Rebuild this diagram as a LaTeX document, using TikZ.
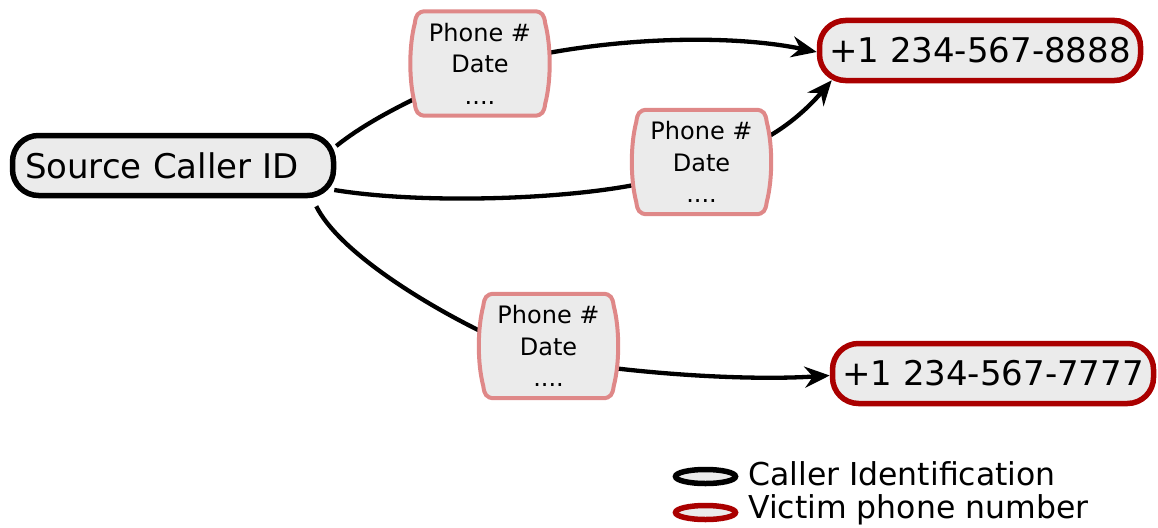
\documentclass[tikz,border=0pt]{standalone}
\usepackage{fontspec}
\setmainfont{DejaVu Sans}
\usetikzlibrary{arrows.meta,calc,shapes.geometric}
\pgfdeclarelayer{edges}
\pgfdeclarelayer{shapes}
\pgfsetlayers{edges,shapes,main}
\definecolor{boxfill}{HTML}{EBEBEB}
\definecolor{victim}{HTML}{AA0000}
\definecolor{recline}{HTML}{DF8888}

% record outline: flat top and bottom, sides bulging slightly outwards
\newcommand\recshape[1]{%
 \begin{pgfonlayer}{shapes}
 \draw[recline, line width=4pt, fill=boxfill]
  ($(#1.north west)+(16,0)$) -- ($(#1.north east)+(-16,0)$)
  .. controls ($(#1.north east)+(-8,0)$) and ($(#1.north east)+(-6,4)$) .. ($(#1.north east)+(-5,12)$)
  .. controls ($(#1.north east)+(1,35)$) and ($(#1.south east)+(1,-35)$) .. ($(#1.south east)+(-5,-12)$)
  .. controls ($(#1.south east)+(-6,-4)$) and ($(#1.south east)+(-8,0)$) .. ($(#1.south east)+(-16,0)$)
  -- ($(#1.south west)+(16,0)$)
  .. controls ($(#1.south west)+(8,0)$) and ($(#1.south west)+(6,-4)$) .. ($(#1.south west)+(5,-12)$)
  .. controls ($(#1.south west)+(-1,-35)$) and ($(#1.north west)+(-1,35)$) .. ($(#1.north west)+(5,12)$)
  .. controls ($(#1.north west)+(6,4)$) and ($(#1.north west)+(8,0)$) .. ($(#1.north west)+(16,0)$) -- cycle;
 \end{pgfonlayer}}

\tikzset{
  idbox/.style={draw=black, line width=5.5pt, fill=boxfill, rounded corners=26pt,
    minimum width=321pt, minimum height=60pt, inner sep=0pt,
    font=\fontsize{34}{40}\selectfont},
  numbox/.style={idbox, draw=victim},
  rec/.style={minimum width=140pt, minimum height=104pt, inner sep=0pt,
    align=center, font=\fontsize{24}{31.5}\selectfont},
  conn/.style={line width=4.3pt, black, >={Stealth[length=25pt,width=21pt]}},
  legell/.style={ellipse, line width=5.5pt, fill=boxfill, minimum width=60pt,
    minimum height=14pt, inner sep=0pt},
  legtxt/.style={inner sep=0pt, anchor=base west, font=\fontsize{31.5}{36}\selectfont},
}

\begin{document}
\begin{tikzpicture}[x=1pt,y=-1pt]
\useasboundingbox (0,0) rectangle (1158,527);

% main nodes
\node[idbox, text width=296pt, align=left] (src) at (173,165.5) {Source Caller ID};
\node[numbox] (p8) at (980,50.5) {+1 234-567-8888};
\node[numbox] (p7) at (993,373.5) {+1 234-567-7777};

% call records
\node[rec] (r1) at (480,63.5) {Phone \#\\Date\\....};
\node[rec] (r2) at (701.5,162) {Phone \#\\Date\\....};
\node[rec] (r3) at (548.5,346) {Phone \#\\Date\\....};
\recshape{r1}
\recshape{r2}
\recshape{r3}

% connectors
\begin{pgfonlayer}{edges}
\draw[conn] ($(src.east)+(0,-19.5)$) .. controls (360,127) and (388,112) .. ($(r1.south west)+(4,-16.5)$);
\draw[conn,->] ($(r1.east)+(-5,-10)$) .. controls (640,36) and (740,36) .. ($(p8.west)+(0,1.5)$);

\draw[conn] ($(src.east)+(-2,24.5)$) .. controls (420,204) and (560,200) .. ($(r2.west)+(8,22)$);
\draw[conn,->] ($(r2.east)+(-6,-24)$) .. controls (795,122) and (815,100) .. ($(p8.south west)+(15,-3)$);

\draw[conn] ($(src.south east)+(-20,8)$) .. controls (338,250) and (420,302) .. ($(r3.west)+(8,-12)$);
\draw[conn,->] ($(r3.east)+(-6,22)$) .. controls (680,376) and (760,380) .. ($(p7.west)+(0,2)$);
\end{pgfonlayer}

% legend
\node[legell, draw=black] (lg1) at (705.5,476.5) {};
\node[legell, draw=victim] (lg2) at (705.5,512.5) {};
\node[legtxt] (lt1) at (748,485) {Caller Identification};
\node[legtxt] (lt2) at (748,518) {Victim phone number};
\end{tikzpicture}
\end{document}
